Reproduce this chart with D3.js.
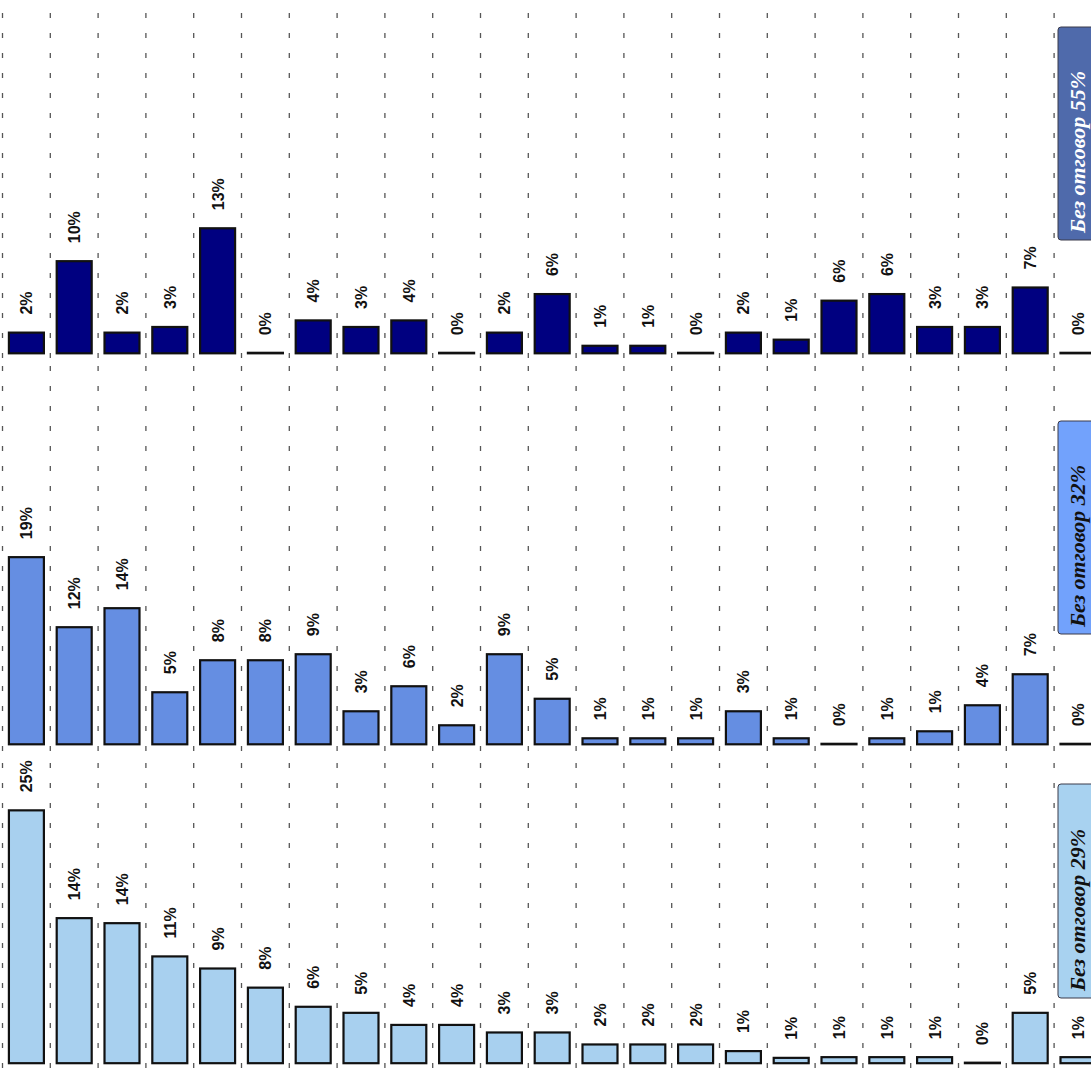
<!DOCTYPE html>
<html><head><meta charset="utf-8">
<script src="https://cdn.jsdelivr.net/npm/d3@7"></script>
<style>html,body{margin:0;padding:0;background:#fff;overflow:hidden}</style>
</head><body>
<svg id="chart" width="1091" height="1077"></svg>
<script>
// ---- data ----
const categories = ["1","2","3","4","5","6","7","8","9","10","11","12","13","14","15","16","17","18","19","20","21","22","23"];
const series1 = [2.2, 9.8, 2.2, 2.8, 13.3, 0, 3.5, 2.8, 3.5, 0, 2.2, 6.3, 0.8, 0.8, 0, 2.2, 1.45, 5.6, 6.3, 2.8, 2.8, 7.0, 0];
const series2 = [18.7, 11.7, 13.6, 5.2, 8.4, 8.4, 9.0, 3.3, 5.8, 1.9, 9.0, 4.55, 0.6, 0.6, 0.6, 3.3, 0.6, 0, 0.6, 1.3, 3.9, 7.0, 0];
const series3 = [25.1, 14.4, 13.9, 10.6, 9.4, 7.5, 5.6, 5.0, 3.8, 3.8, 3.05, 3.05, 1.86, 1.86, 1.86, 1.2, 0.53, 0.6, 0.6, 0.6, 0, 5.0, 0.6];
const noAnswerLabels = ["Без отговор 55%", "Без отговор 32%", "Без отговор 29%"];

// ---- layout / style ----
const panels = [
  {values: series1, top: 13,  base: 353.3, bottom: 360, yMax: 36.2, fill: "#000080",
   box: {y0: 27, y1: 240, fill: "#4f6aab", text: "#ffffff"}, legend: noAnswerLabels[0]},
  {values: series2, top: 366, base: 744.3, bottom: 752, yMax: 37.8, fill: "#658ee2",
   box: {y0: 421, y1: 634, fill: "#72a2fc", text: "#111111"}, legend: noAnswerLabels[1]},
  {values: series3, top: 763, base: 1063.2, bottom: 1077, yMax: 29.8, fill: "#a8d0ef",
   box: {y0: 784, y1: 998, fill: "#a8d2f0", text: "#111111"}, legend: noAnswerLabels[2]}
];

const svg = d3.select("#chart");
const x = d3.scaleBand().domain(categories).range([2.5, 2.5 + 23 * 47.8])
  .paddingInner(0.268).paddingOuter(0.134);
const step = x.step();
const gridX = d3.range(categories.length + 1).map(i => x.range()[0] + i * step);

panels.forEach(p => {
  const g = svg.append("g");
  const y = d3.scaleLinear().domain([0, p.yMax]).range([p.base, p.top]);

  // dashed vertical gridlines
  g.selectAll("line.grid").data(gridX).join("line")
    .attr("class", "grid")
    .attr("x1", d => d).attr("x2", d => d)
    .attr("y1", p.top).attr("y2", p.bottom)
    .attr("stroke", "#555").attr("stroke-width", 1.3)
    .attr("stroke-dasharray", "5,15");

  // bars
  g.selectAll("rect.bar").data(p.values).join("rect")
    .attr("class", "bar")
    .attr("x", (d, i) => x(categories[i]))
    .attr("width", x.bandwidth())
    .attr("y", d => Math.min(y(d), p.base - 0.5))
    .attr("height", d => Math.max(p.base - y(d), 0.5))
    .attr("fill", p.fill)
    .attr("stroke", "#111").attr("stroke-width", 2.2);

  // value labels
  g.selectAll("text.lbl").data(p.values).join("text")
    .attr("class", "lbl")
    .attr("transform", (d, i) => `translate(${x(categories[i]) + x.bandwidth() / 2 + 6},${y(d) - 18}) rotate(-90)`)
    .attr("font-family", "Arial, 'Liberation Sans', sans-serif")
    .attr("font-weight", "bold")
    .attr("font-size", 16)
    .attr("fill", "#111")
    .text(d => Math.round(d) + "%");

  // "no answer" box
  const bx = 1058, bw = 44;
  g.append("rect")
    .attr("x", bx).attr("y", p.box.y0)
    .attr("width", bw).attr("height", p.box.y1 - p.box.y0)
    .attr("rx", 3).attr("ry", 3)
    .attr("fill", p.box.fill)
    .attr("stroke", "#3a3a4a").attr("stroke-width", 1);
  g.append("text")
    .attr("transform", `translate(1085,${p.box.y1 - 7}) rotate(-90)`)
    .attr("font-family", "'Times New Roman', 'Liberation Serif', serif")
    .attr("font-weight", "bold").attr("font-style", "italic")
    .attr("font-size", 22)
    .attr("fill", p.box.text)
    .text(p.legend);
});
</script>
</body></html>
